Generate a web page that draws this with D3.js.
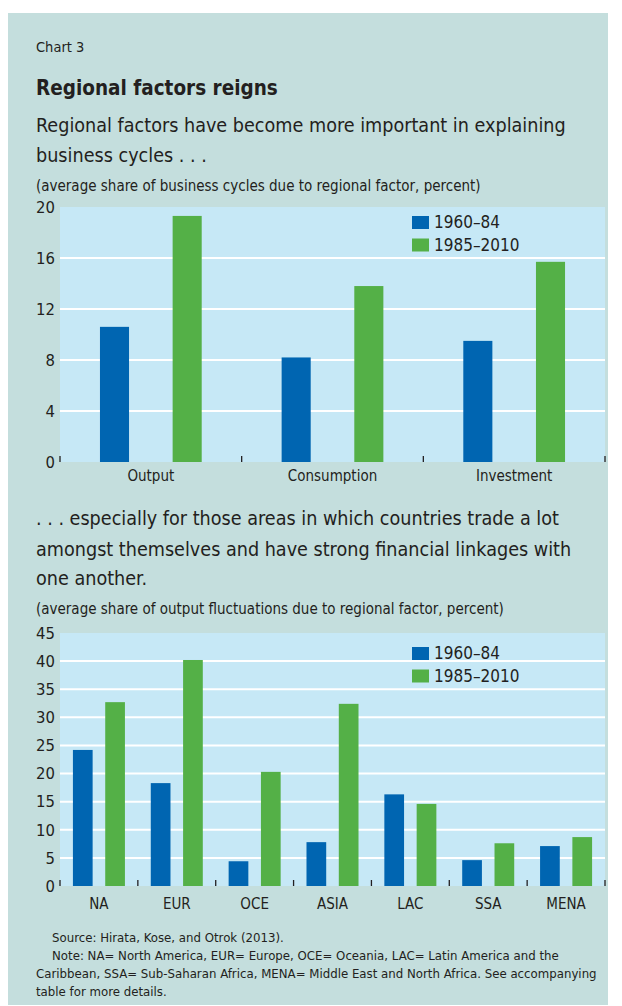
<!DOCTYPE html>
<html>
<head>
<meta charset="utf-8">
<script src="https://cdn.jsdelivr.net/npm/d3@7"></script>
<style>
  body { margin: 0; background: #fff; }
  svg text { font-family: "Liberation Sans Narrow", "DejaVu Sans Condensed", "Arial Narrow", sans-serif; fill: #231f20; }
</style>
</head>
<body>
<svg width="622" height="1006"></svg>
<script>
// data
const seriesNames = ["1960–84", "1985–2010"];
const categories1 = ["Output", "Consumption", "Investment"];
const early1 = [10.6, 8.2, 9.5];
const late1 = [19.3, 13.8, 15.7];
const yTicks1 = [0, 4, 8, 12, 16, 20];

const categories2 = ["NA", "EUR", "OCE", "ASIA", "LAC", "SSA", "MENA"];
const early2 = [24.2, 18.3, 4.4, 7.8, 16.3, 4.6, 7.1];
const late2 = [32.7, 40.2, 20.3, 32.4, 14.6, 7.6, 8.7];
const yTicks2 = [0, 5, 10, 15, 20, 25, 30, 35, 40, 45];

const colors = ["#0065b1", "#54b047"];

const svg = d3.select("svg");

svg.append("rect")
  .attr("x", 8).attr("y", 13)
  .attr("width", 600).attr("height", 992)
  .attr("fill", "#c4dedd");

function addText(x, y, str, size, weight) {
  return svg.append("text")
    .attr("x", x).attr("y", y)
    .attr("font-size", size)
    .attr("font-weight", weight || "normal")
    .text(str);
}

addText(36, 52, "Chart 3", 14.5);
addText(36, 95, "Regional factors reigns", 20.5, "bold");
addText(36, 132, "Regional factors have become more important in explaining", 19.6);
addText(36, 162, "business cycles . . .", 19.6);
addText(36, 191, "(average share of business cycles due to regional factor, percent)", 15);

addText(36, 525, ". . . especially for those areas in which countries trade a lot", 19.6);
addText(36, 556, "amongst themselves and have strong financial linkages with", 19.6);
addText(36, 585, "one another.", 19.6);
addText(36, 614, "(average share of output fluctuations due to regional factor, percent)", 15);

addText(52, 942, "Source: Hirata, Kose, and Otrok (2013).", 13.1);
addText(52, 960, "Note: NA= North America, EUR= Europe, OCE= Oceania, LAC= Latin America and the", 13.1);
addText(36, 978, "Caribbean, SSA= Sub-Saharan Africa, MENA= Middle East and North Africa. See accompanying", 13.1);
addText(36, 996, "table for more details.", 13.1);

function barChart(opts) {
  const {top, bottom, left, right, cats, a, b, ticks, inner, outer, labelY, legendY} = opts;
  const g = svg.append("g");
  const x0 = d3.scaleBand().domain(cats).range([left, right]);
  const x1 = d3.scaleBand().domain(seriesNames).range([0, x0.bandwidth()])
    .paddingInner(inner).paddingOuter(outer);
  const y = d3.scaleLinear().domain([0, d3.max(ticks)]).range([bottom, top]);

  g.append("rect")
    .attr("x", left).attr("y", top)
    .attr("width", right - left).attr("height", bottom - top)
    .attr("fill", "#c6e8f6");

  g.selectAll(".grid").data(ticks.slice(1, -1)).join("line")
    .attr("x1", left).attr("x2", right)
    .attr("y1", d => y(d)).attr("y2", d => y(d))
    .attr("stroke", "#fff").attr("stroke-width", 2);

  const rows = cats.map((c, i) => ({cat: c, vals: [a[i], b[i]]}));
  g.selectAll(".grp").data(rows).join("g")
    .attr("transform", d => `translate(${x0(d.cat)},0)`)
    .selectAll("rect").data(d => d.vals.map((v, k) => ({v, k})))
    .join("rect")
    .attr("x", d => x1(seriesNames[d.k]))
    .attr("width", x1.bandwidth())
    .attr("y", d => y(d.v))
    .attr("height", d => bottom - y(d.v))
    .attr("fill", d => colors[d.k]);

  // y axis labels
  const yAxis = g.append("g")
    .attr("transform", `translate(${left},0)`)
    .call(d3.axisLeft(y).tickValues(ticks).tickSize(0).tickPadding(5));
  yAxis.select(".domain").remove();
  yAxis.selectAll("text").attr("font-size", 16.5).attr("fill", "#231f20")
    .style("font-family", "'Liberation Sans Narrow', 'DejaVu Sans Condensed', sans-serif");

  // x axis: small ticks at group boundaries pointing up
  const bounds = cats.map(c => x0(c)).concat([right]);
  g.selectAll(".xt").data(bounds).join("line")
    .attr("x1", d => d).attr("x2", d => d)
    .attr("y1", bottom - 6).attr("y2", bottom)
    .attr("stroke", "#231f20").attr("stroke-width", 1.3);

  const xAxis = g.append("g")
    .attr("transform", `translate(0,${bottom})`)
    .call(d3.axisBottom(x0).tickSize(0).tickPadding(labelY - bottom - 11));
  xAxis.select(".domain").remove();
  xAxis.selectAll("text").attr("font-size", 15).attr("fill", "#231f20")
    .style("font-family", "'Liberation Sans Narrow', 'DejaVu Sans Condensed', sans-serif");

  // legend
  const lg = g.append("g").attr("transform", `translate(412,${legendY})`);
  seriesNames.forEach((s, k) => {
    lg.append("rect").attr("x", 0).attr("y", k * 22.5)
      .attr("width", 17).attr("height", 13).attr("fill", colors[k]);
    lg.append("text").attr("x", 22).attr("y", k * 22.5 + 12)
      .attr("font-size", 17).text(s);
  });
}

barChart({top: 207, bottom: 462, left: 60, right: 605, cats: categories1,
  a: early1, b: late1, ticks: yTicks1, inner: 0.6, outer: 0.55, labelY: 481, legendY: 216});
barChart({top: 633, bottom: 886, left: 60, right: 605, cats: categories2,
  a: early2, b: late2, ticks: yTicks2, inner: 0.39, outer: 0.4, labelY: 909, legendY: 647});
</script>
</body>
</html>
